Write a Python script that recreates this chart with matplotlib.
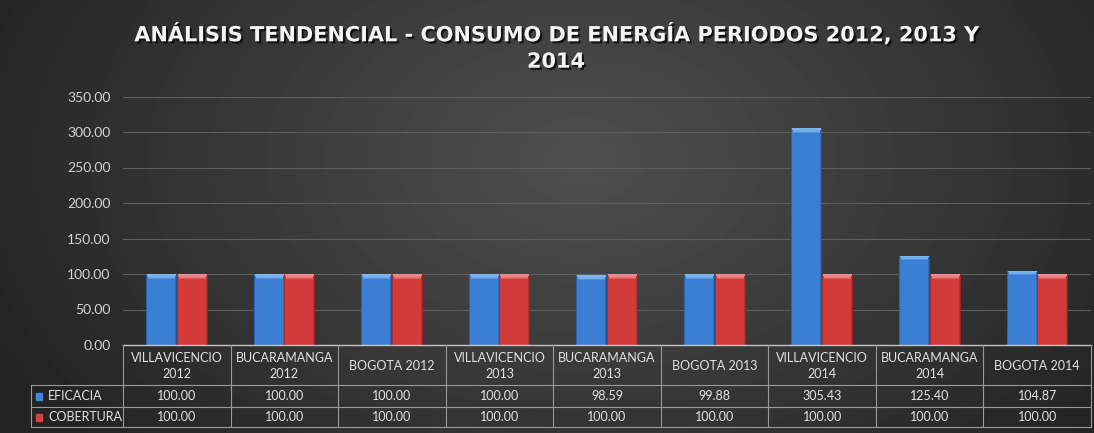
import numpy as np
import matplotlib
matplotlib.use("Agg")
import matplotlib.pyplot as plt
from matplotlib import patheffects as pe
from matplotlib.colors import LinearSegmentedColormap

# ---------------- data ----------------
categories = ["VILLAVICENCIO\n2012", "BUCARAMANGA\n2012", "BOGOTA 2012",
              "VILLAVICENCIO\n2013", "BUCARAMANGA\n2013", "BOGOTA 2013",
              "VILLAVICENCIO\n2014", "BUCARAMANGA\n2014", "BOGOTA 2014"]
eficacia = [100.00, 100.00, 100.00, 100.00, 98.59, 99.88, 305.43, 125.40, 104.87]
cobertura = [100.00, 100.00, 100.00, 100.00, 100.00, 100.00, 100.00, 100.00, 100.00]
series_names = ["EFICACIA", "COBERTURA"]
yticks = [0, 50, 100, 150, 200, 250, 300, 350]
title = "ANÁLISIS TENDENCIAL - CONSUMO DE ENERGÍA PERIODOS 2012, 2013 Y\n2014"

FONT = "Lato"
TFONT = "DejaVu Sans"
W, H = 1094, 433
fig = plt.figure(figsize=(W / 100, H / 100), dpi=100)

# ---------------- background gradient ----------------
bg = fig.add_axes([0, 0, 1, 1], zorder=0)
yy, xx = np.mgrid[0:H, 0:W]
r = np.sqrt(((xx - 580) / 640) ** 2 + ((yy - 160) / 430) ** 2)
val = 0.31 - 0.17 * np.clip(r, 0, 1)
bg.imshow(val, cmap="gray", vmin=0, vmax=1, extent=[0, W, H, 0], aspect="auto",
          interpolation="bilinear")
bg.set_xlim(0, W); bg.set_ylim(H, 0)
bg.axis("off")

# ---------------- main axes ----------------
ax_top, ax_bot, ax_l, ax_r = 96.5, 345, 123, 1091
ax = fig.add_axes([ax_l / W, (H - ax_bot) / H, (ax_r - ax_l) / W, (ax_bot - ax_top) / H], zorder=2)
ax.set_facecolor("none")
x = np.arange(len(categories))
bw = 0.285
b1 = ax.bar(x - bw / 2, eficacia, bw, color="#3b7fd4", zorder=3)
b2 = ax.bar(x + bw / 2, cobertura, bw, color="#d13c3c", zorder=3)
ax.set_xlim(-0.5, len(categories) - 0.5)
ax.set_ylim(0, 350)
ax.set_yticks(yticks)
ax.set_yticklabels([f"{v:.2f}" for v in yticks], fontsize=10, color="#d4d4d4", family=FONT)
ax.set_xticks([])
ax.tick_params(axis="y", length=0, pad=9)
for s in ax.spines.values():
    s.set_visible(False)
ax.yaxis.grid(True, color="#5e5e5e", lw=0.8, zorder=1)
ax.set_axisbelow(True)

# shaded bars: flat face, darker edges, lighter top bevel
def shade(bars, dark, mid, light):
    cm = LinearSegmentedColormap.from_list("c", [dark, mid, light])
    for b in bars:
        x0, w, h = b.get_x(), b.get_width(), b.get_height()
        p0 = ax.transData.transform((x0, 0))
        p1 = ax.transData.transform((x0 + w, h))
        nx = max(int(round(p1[0] - p0[0])), 2)
        ny = max(int(round(p1[1] - p0[1])), 2)
        prof = np.full(nx, 0.5)
        prof[0] = 0.2
        prof[-1] = 0.05
        prof[-2] = 0.3
        img = np.tile(prof, (ny, 1))
        img[0:4, 2:-2] = 0.85
        img[0:2, 1:-1] = 0.92
        img[4, 2:-2] = 0.65
        im = ax.imshow(img, cmap=cm, vmin=0, vmax=1, extent=[x0, x0 + w, 0, h],
                       aspect="auto", zorder=4, interpolation="nearest")
        im.set_clip_path(b)
shade(b1, "#1f4f90", "#3b7fd4", "#8cc0f5")
shade(b2, "#8f2222", "#d33b3b", "#f29a9a")
ax.set_xlim(-0.5, len(categories) - 0.5)
ax.set_ylim(0, 350)

# ---------------- data table ----------------
tax = fig.add_axes([0, 0, 1, 1], zorder=3)
tax.set_xlim(0, W); tax.set_ylim(H, 0)
tax.set_facecolor("none"); tax.axis("off")

def xpx(xd):
    return ax.transData.transform((xd, 0))[0]

edges = [xpx(i - 0.5) for i in range(len(categories) + 1)]
y_top, y_h, y_r1, y_r2 = 345, 385, 407, 427
lab_l = 31
lc = "#9a9a9a"
tax.plot([edges[0], edges[-1]], [y_top, y_top], color="#c4c4c4", lw=1.0)
for e in edges:
    tax.plot([e, e], [y_top, y_r2], color=lc, lw=0.8)
for yv in (y_h, y_r1, y_r2):
    tax.plot([lab_l, edges[-1]], [yv, yv], color=lc, lw=0.8)
tax.plot([lab_l, lab_l], [y_h, y_r2], color=lc, lw=0.8)

tcol = "#e2e2e2"
for i, c in enumerate(categories):
    cx = (edges[i] + edges[i + 1]) / 2
    tax.text(cx, (y_top + y_h) / 2 + 1, c, ha="center", va="center", fontsize=9,
             color=tcol, family=FONT, linespacing=1.45)
    tax.text(cx, (y_h + y_r1) / 2, f"{eficacia[i]:.2f}", ha="center", va="center",
             fontsize=9, color=tcol, family=FONT)
    tax.text(cx, (y_r1 + y_r2) / 2, f"{cobertura[i]:.2f}", ha="center", va="center",
             fontsize=9, color=tcol, family=FONT)

for (name, col), (ya, yb) in zip(zip(series_names, ["#3f86da", "#d83f3f"]),
                                 [(y_h, y_r1), (y_r1, y_r2)]):
    yc = (ya + yb) / 2
    tax.add_patch(plt.Rectangle((35.5, yc - 3.5), 6.5, 7, color=col))
    tax.text(48, yc, name, ha="left", va="center", fontsize=9, color=tcol, family=FONT)

# ---------------- title ----------------
fig.text(556 / W, 1 - 47 / H, title, ha="center", va="center", fontsize=15,
         fontweight="bold", color="#f4f4f4", family=TFONT, linespacing=1.4,
         path_effects=[pe.withSimplePatchShadow(offset=(1.5, -1.5), shadow_rgbFace="black", alpha=0.7)])

fig.savefig("out.png", dpi=100)
